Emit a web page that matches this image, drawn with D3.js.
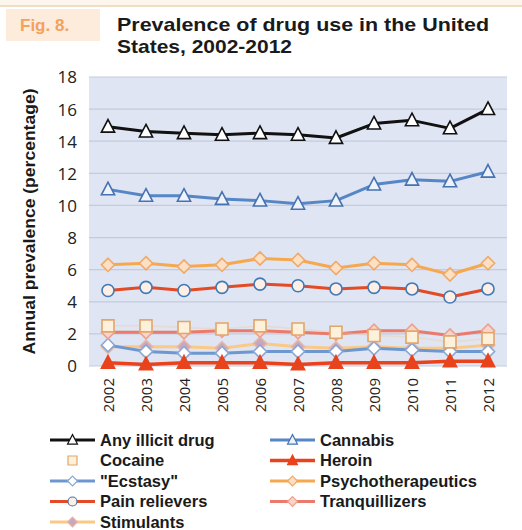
<!DOCTYPE html>
<html>
<head>
<meta charset="utf-8">
<script src="https://cdn.jsdelivr.net/npm/d3@7"></script>
<style>
  html, body { margin: 0; padding: 0; background: #fff; }
  svg { display: block; font-family: "Liberation Sans", Arial, sans-serif; }
</style>
</head>
<body>
<svg id="chart" width="522" height="530"></svg>
<script>
// Years on the horizontal axis
const years = ["2002","2003","2004","2005","2006","2007","2008","2009","2010","2011","2012"];
const yTicks = [0, 2, 4, 6, 8, 10, 12, 14, 16, 18];

// Annual prevalence (%) per substance
const anyIllicit        = [14.9, 14.6, 14.5, 14.4, 14.5, 14.4, 14.2, 15.1, 15.3, 14.8, 16.0];
const cannabis          = [11.0, 10.6, 10.6, 10.4, 10.3, 10.1, 10.3, 11.3, 11.6, 11.5, 12.1];
const cocaine           = [2.5, 2.5, 2.4, 2.3, 2.5, 2.3, 2.1, 1.9, 1.8, 1.5, 1.7];
const heroin            = [0.2, 0.1, 0.2, 0.2, 0.2, 0.1, 0.2, 0.2, 0.2, 0.3, 0.3];
const ecstasy           = [1.3, 0.9, 0.8, 0.8, 0.9, 0.9, 0.9, 1.1, 1.0, 0.9, 0.9];
const psychotherapeutics= [6.3, 6.4, 6.2, 6.3, 6.7, 6.6, 6.1, 6.4, 6.3, 5.7, 6.4];
const painRelievers     = [4.7, 4.9, 4.7, 4.9, 5.1, 5.0, 4.8, 4.9, 4.8, 4.3, 4.8];
const tranquillizers    = [2.1, 2.1, 2.1, 2.2, 2.2, 2.1, 2.0, 2.2, 2.2, 1.9, 2.2];
const stimulants        = [1.2, 1.2, 1.2, 1.1, 1.4, 1.2, 1.1, 1.2, 1.1, 1.1, 1.3];

const series = [
  { name: "Stimulants",         values: stimulants,         line: "#fbc985", shape: "diamond",  fill: "#c9a6c0", stroke: "#e3b9a6", lw: 3 },
  { name: "Ecstasy",            label: "\"Ecstasy\"", values: ecstasy, line: "#6d98cf", shape: "diamond", fill: "#ffffff", stroke: "#8aa6d4", lw: 3 },
  { name: "Tranquillizers",     values: tranquillizers,     line: "#ec7a6c", shape: "diamond",  fill: "#f8d4c8", stroke: "#eea08e", lw: 3 },
  { name: "Cocaine",            values: cocaine,            line: "rgba(240,200,150,0.35)", shape: "square", fill: "#fdf1dc", stroke: "#e2a56a", lw: 1.5 },
  { name: "Heroin",             values: heroin,             line: "#e9431d", shape: "triangle", fill: "#e9431d", stroke: "#e9431d", lw: 3.5 },
  { name: "Pain relievers",     values: painRelievers,      line: "#e34a26", shape: "circle",   fill: "#fdeee6", stroke: "#3f7bb8", lw: 3 },
  { name: "Psychotherapeutics", values: psychotherapeutics, line: "#f6a84e", shape: "diamond",  fill: "#fde0c4", stroke: "#f0a968", lw: 3 },
  { name: "Cannabis",           values: cannabis,           line: "#5686c6", shape: "triangle", fill: "#eef2fa", stroke: "#4672b0", lw: 3 },
  { name: "Any illicit drug",   values: anyIllicit,         line: "#111111", shape: "triangle", fill: "#ffffff", stroke: "#111111", lw: 3 }
];

const svg = d3.select("#chart");

// Header band
svg.append("rect").attr("x", 0).attr("y", 0).attr("width", 522).attr("height", 6).attr("fill", "#fdf6ec");
svg.append("line").attr("x1", 0).attr("x2", 522).attr("y1", 6).attr("y2", 6)
  .attr("stroke", "#ecd3b4").attr("stroke-width", 1.5);
svg.append("rect").attr("x", 6).attr("y", 9).attr("width", 94).attr("height", 32).attr("fill", "#fdebdc");
svg.append("text").attr("x", 20).attr("y", 31).text("Fig. 8.")
  .attr("font-size", 17).attr("font-weight", "bold").attr("fill", "#f2a25c");
svg.append("text").attr("x", 117).attr("y", 31).text("Prevalence of drug use in the United")
  .attr("font-size", 19).attr("font-weight", "bold").attr("fill", "#1a1a1a")
  .attr("textLength", 372).attr("lengthAdjust", "spacingAndGlyphs");
svg.append("text").attr("x", 117).attr("y", 53).text("States, 2002-2012")
  .attr("font-size", 19).attr("font-weight", "bold").attr("fill", "#1a1a1a")
  .attr("textLength", 175).attr("lengthAdjust", "spacingAndGlyphs");

// Plot area
const plot = { left: 89, right: 507, top: 77, bottom: 366 };
const x = d3.scalePoint().domain(years).range([plot.left, plot.right]).padding(0.5);
const y = d3.scaleLinear().domain([0, 18]).range([plot.bottom, plot.top]);

svg.append("rect").attr("x", plot.left).attr("y", plot.top)
  .attr("width", plot.right - plot.left).attr("height", plot.bottom - plot.top)
  .attr("fill", "#dfe5f2");

// Horizontal gridlines
svg.append("g").selectAll("line").data(yTicks).join("line")
  .attr("x1", plot.left).attr("x2", plot.right)
  .attr("y1", d => y(d)).attr("y2", d => y(d))
  .attr("stroke", "#c3cbdc").attr("stroke-width", 1.2);

// Y axis labels
const yAxis = svg.append("g").attr("transform", `translate(${plot.left - 12},0)`)
  .call(d3.axisLeft(y).tickValues(yTicks).tickSize(0).tickPadding(0));
yAxis.select(".domain").remove();
yAxis.selectAll("text").attr("font-size", 17).attr("fill", "#222")
  .attr("font-family", "'Open Sans', sans-serif").attr("dy", "0.35em");

// X axis labels (rotated)
const xAxis = svg.append("g").attr("transform", `translate(0,${plot.bottom + 12})`)
  .call(d3.axisBottom(x).tickSize(0).tickPadding(0));
xAxis.select(".domain").remove();
xAxis.selectAll("text")
  .attr("font-size", 15).attr("fill", "#222").attr("font-family", "'Open Sans', sans-serif")
  .attr("transform", "rotate(-90)").attr("text-anchor", "end").attr("x", 0).attr("y", 0).attr("dy", "0.35em");

// Y axis title
svg.append("text").attr("transform", `translate(35,${(plot.top + plot.bottom) / 2}) rotate(-90)`)
  .attr("text-anchor", "middle").attr("font-size", 16).attr("font-weight", "bold").attr("fill", "#1a1a1a")
  .attr("textLength", 266).attr("lengthAdjust", "spacingAndGlyphs")
  .text("Annual prevalence (percentage)");

// Marker path generator
function markerPath(shape, s) {
  if (shape === "triangle") return `M0,${-s * 0.6}L${s * 0.55},${s * 0.45}L${-s * 0.55},${s * 0.45}Z`;
  if (shape === "diamond") return `M0,${-s * 0.55}L${s * 0.55},0L0,${s * 0.55}L${-s * 0.55},0Z`;
  if (shape === "square") return `M${-s * 0.5},${-s * 0.5}H${s * 0.5}V${s * 0.5}H${-s * 0.5}Z`;
  return d3.arc()({ innerRadius: 0, outerRadius: s * 0.5, startAngle: 0, endAngle: 2 * Math.PI });
}

const lineGen = d3.line().x((d, i) => x(years[i])).y(d => y(d));

const seriesG = svg.append("g");
series.forEach(s => {
  const g = seriesG.append("g");
  g.append("path").datum(s.values).attr("d", lineGen)
    .attr("fill", "none").attr("stroke", s.line).attr("stroke-width", s.lw).attr("stroke-linejoin", "round");
  g.selectAll("path.m").data(s.values).join("path").attr("class", "m")
    .attr("transform", (d, i) => `translate(${x(years[i])},${y(d)})`)
    .attr("d", markerPath(s.shape, s.shape === "circle" ? 12 : (s.shape === "triangle" ? 12 : 12)))
    .attr("fill", s.fill).attr("stroke", s.stroke).attr("stroke-width", 1.6);
});

// Legend
const legendOrder = ["Any illicit drug", "Cannabis", "Cocaine", "Heroin", "Ecstasy",
  "Psychotherapeutics", "Pain relievers", "Tranquillizers", "Stimulants"];
const legend = svg.append("g");
legendOrder.forEach((name, i) => {
  const s = series.find(d => d.name === name);
  const col = i % 2, row = Math.floor(i / 2);
  const lx = col === 0 ? 50 : 270, ly = 440 + row * 20.5;
  const g = legend.append("g").attr("transform", `translate(${lx},${ly})`);
  if (name !== "Cocaine") {
    g.append("line").attr("x1", 0).attr("x2", 45).attr("y1", 0).attr("y2", 0)
      .attr("stroke", s.line).attr("stroke-width", s.lw);
  }
  g.append("path").attr("transform", "translate(22.5,0)")
    .attr("d", markerPath(s.shape, 9))
    .attr("fill", s.fill).attr("stroke", s.stroke).attr("stroke-width", 1.2);
  g.append("text").attr("x", 50).attr("y", 0).attr("dy", "0.35em")
    .attr("font-size", 16.5).attr("font-weight", "bold").attr("fill", "#1a1a1a")
    .text(s.label || s.name);
});
</script>
</body>
</html>
